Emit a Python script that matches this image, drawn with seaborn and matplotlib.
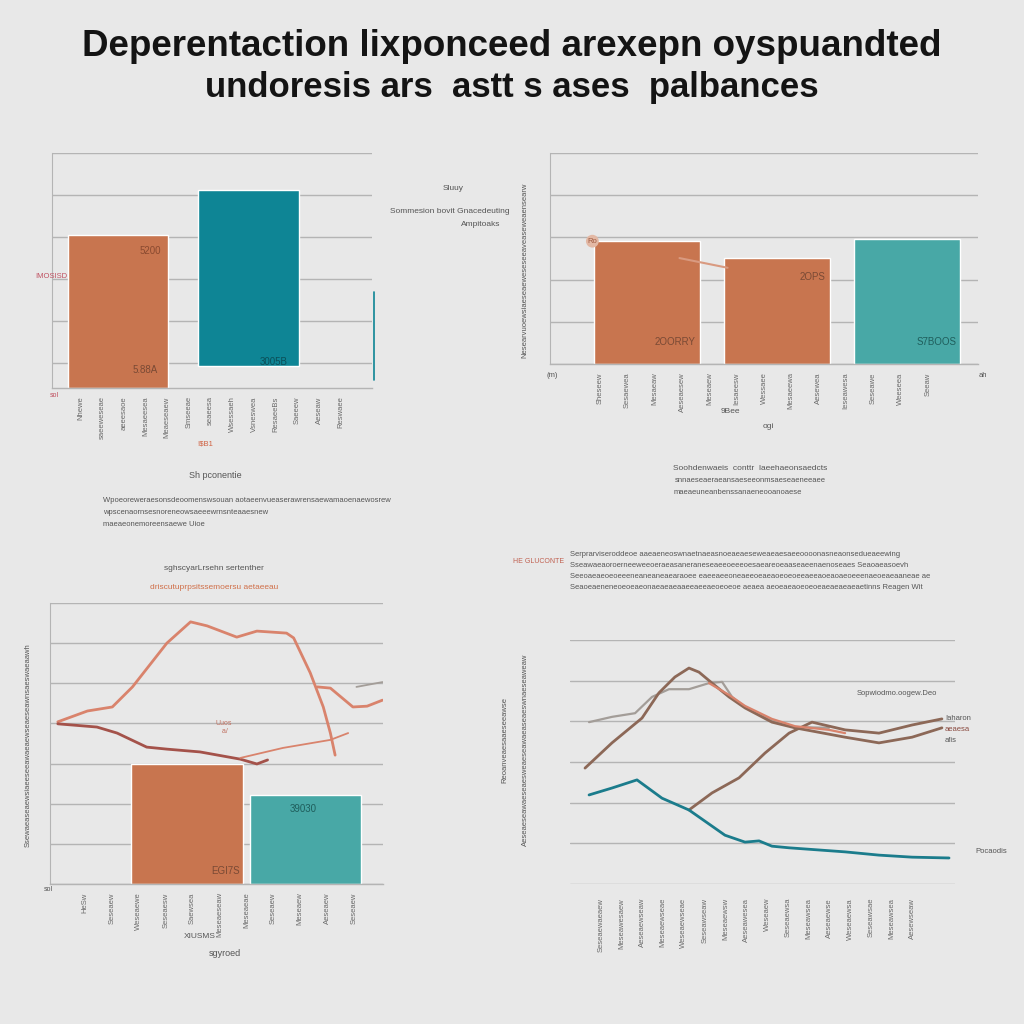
import numpy as np
import pandas as pd
import matplotlib
matplotlib.use("Agg")
import matplotlib.pyplot as plt
import seaborn as sns

# colours
BG = "#e8e8e8"
ORANGE = "#c8754f"
TEAL_DARK = "#0e8595"
TEAL = "#48a8a6"
SALMON = "#d9836c"
DARKRED = "#a4524a"
BROWN = "#8c6857"
GREY = "#a39d98"
GRID = "#b4b4b4"
TXT = "#555555"

# --- top-left: two bars (teal one floats)
tl_cats = ["Imosisd", "Sluuy"]
tl_top = [3.65, 4.72]
tl_bottom = [0.0, 0.52]
tl_colors = [ORANGE, TEAL_DARK]

# --- top-right: three bars + small connector
tr_cats = ["2OORRY", "2OPS", "S7BOOS"]
tr_vals = [2.91, 2.51, 2.96]
tr_colors = [ORANGE, ORANGE, TEAL]
tr_link_x = [0.25, 0.62]
tr_link_y = [2.51, 2.28]

# --- bottom-left: two bars with lines on top
bl_cats = ["EGI7S", "39030"]
bl_vals = [2.99, 2.22]
bl_colors = [ORANGE, TEAL]
bl_salmon_x = [-1.09, -0.84, -0.63, -0.46, -0.17, 0.03, 0.17, 0.42, 0.59, 0.84, 0.90, 1.04, 1.15, 1.21, 1.25]
bl_salmon_y = [4.04, 4.31, 4.41, 4.91, 6.00, 6.53, 6.43, 6.15, 6.30, 6.25, 6.13, 5.26, 4.41, 3.76, 3.21]
bl_salmon2_x = [1.10, 1.21, 1.40, 1.52, 1.65]
bl_salmon2_y = [4.91, 4.88, 4.41, 4.43, 4.58]
bl_grey_x = [1.43, 1.65]
bl_grey_y = [4.91, 5.03]
bl_red_x = [-1.09, -0.76, -0.59, -0.34, -0.17, 0.11, 0.45, 0.59, 0.68]
bl_red_y = [3.99, 3.91, 3.76, 3.41, 3.36, 3.29, 3.11, 2.99, 3.09]
bl_orange_x = [0.45, 0.81, 1.21, 1.36]
bl_orange_y = [3.14, 3.39, 3.59, 3.76]

# --- bottom-right: four lines
br_teal_x = [0.99, 2.18, 3.48, 4.78, 6.18, 8.05, 9.09, 9.82, 10.49, 11.38, 14.29, 16.05, 17.77, 19.69]
br_teal_y = [2.19, 2.36, 2.56, 2.11, 1.82, 1.20, 1.03, 1.06, 0.93, 0.89, 0.79, 0.71, 0.66, 0.64]
br_brown1_x = [0.78, 2.18, 3.74, 4.62, 5.45, 6.18, 6.70, 7.38, 8.26, 9.09, 10.49, 11.69, 14.29, 16.05, 17.77, 19.32]
br_brown1_y = [2.85, 3.47, 4.08, 4.70, 5.09, 5.31, 5.21, 4.94, 4.60, 4.33, 3.98, 3.84, 3.61, 3.47, 3.61, 3.84]
br_brown2_x = [6.18, 7.38, 8.78, 10.13, 11.38, 12.57, 14.29, 16.05, 17.77, 19.32]
br_brown2_y = [1.82, 2.24, 2.61, 3.22, 3.71, 3.98, 3.79, 3.71, 3.91, 4.06]
br_grey_x = [0.99, 2.18, 3.38, 4.26, 5.14, 6.18, 7.22, 7.90, 8.42, 9.09, 10.49, 11.69, 13.45]
br_grey_y = [3.98, 4.11, 4.20, 4.60, 4.79, 4.79, 4.94, 4.97, 4.60, 4.35, 4.03, 3.86, 3.84]
br_salmon_x = [7.22, 8.26, 9.09, 10.49, 11.69, 13.45, 14.29]
br_salmon_y = [4.94, 4.65, 4.38, 4.06, 3.88, 3.79, 3.71]

# garbled tick labels, as in the picture
tl_ticks = ["Nhewe", "saeeweseae", "aeeesaoe", "Mesaeesea", "Meaeseaew", "Smseeae", "seaeesa",
            "Wsessaeh", "Vsneswea", "ResaeeBs", "Saeeew", "Aeseaw", "Reswaee"]
tr_ticks = ["Sheseew", "Sesaewea", "Mesaeaw", "Aeseaesew", "Meseaew", "Iesaeesw", "Wessaee",
            "Mesaeewa", "Aesewea", "Ieseawesa", "Seseawe", "Weeseea", "Seeaw"]
bl_ticks = ["HeSw", "Seseaew", "Weseaewe", "Seseaesw", "Saewsea", "Meseaeseaw", "Meseaeae",
            "Seseaew", "Meseaew", "Aeseaew", "Seseaew"]
br_ticks = ["Seseaewaeaew", "Meseawesaew", "Aeseaewseaw", "Meseaewseae", "Weseaewseae",
            "Seseawseaw", "Meseaewsw", "Aeseawesea", "Weseaew", "Seseaewsa", "Meseawsea",
            "Aeseaewse", "Weseaewsa", "Seseawsae", "Meseawsea", "Aesewseaw"]

sns.set_theme(style="white")
plt.rcParams["font.family"] = ["Liberation Sans", "DejaVu Sans"]

fig = plt.figure(figsize=(10.24, 10.24), dpi=100, facecolor=BG)


def px_axes(l, t, r, b):
    ax = fig.add_axes([l / 1024, 1 - b / 1024, (r - l) / 1024, (b - t) / 1024])
    ax.set_facecolor(BG)
    return ax


def ftxt(x, y, s, **kw):
    kw.setdefault("color", TXT)
    kw.setdefault("fontsize", 6)
    fig.text(x / 1024, 1 - y / 1024, s, **kw)


def style_axes(ax, ticks, tick_pos, left_spine=True):
    for side in ["top", "right"]:
        ax.spines[side].set_visible(False)
    ax.spines["left"].set_visible(left_spine)
    ax.spines["left"].set_color(GRID)
    ax.spines["left"].set_linewidth(0.8)
    ax.spines["bottom"].set_color(GRID)
    ax.spines["bottom"].set_linewidth(1.0)
    ax.yaxis.grid(True, color=GRID, lw=1.0)
    ax.set_axisbelow(True)
    ax.set_yticklabels([])
    ax.tick_params(axis="y", length=0)
    ax.set_xticks(tick_pos)
    ax.set_xticklabels(ticks, rotation=90, fontsize=5.5, color="#6a6a6a")
    ax.tick_params(axis="x", length=0, pad=6)
    ax.set_xlabel("")
    ax.set_ylabel("")


# ---------------- title
ftxt(512, 46, "Deperentaction lixponceed arexepn oyspuandted", ha="center", va="center",
     fontsize=26.5, color="#141414", weight="bold")
ftxt(512, 88, "undoresis ars  astt s ases  palbances", ha="center", va="center",
     fontsize=25, color="#141414", weight="bold")

# ---------------- top-left
ax1 = px_axes(52, 153, 372, 388)
sns.barplot(x=tl_cats, y=np.array(tl_top) - np.array(tl_bottom), bottom=tl_bottom,
            color=ORANGE, width=0.77, ax=ax1, saturation=1)
for patch, c in zip(ax1.patches, tl_colors):
    patch.set_facecolor(c)
ax1.set_xlim(-0.51, 1.95)
ax1.set_ylim(0, 5.6)
ax1.set_yticks([0.6, 1.6, 2.6, 3.6, 4.6, 5.6])
style_axes(ax1, tl_ticks, np.linspace(-0.29, 1.71, len(tl_ticks)))
ax1.text(0.33, 3.2, "5200", fontsize=7, color="#8a4a30", ha="right")
ax1.text(0.30, 0.35, "5.88A", fontsize=7, color="#7a4a35", ha="right")
ax1.text(1.30, 0.55, "3005B", fontsize=7, color="#0b4f58", ha="right")
ftxt(35, 276, "IMOSISD", color="#c05060", fontsize=5.5, va="center")
ftxt(50, 397, "sol", color="#c05060", fontsize=5)
ftxt(205, 445, "!$B1", color="#d06040", fontsize=5.5, ha="center")
fig.add_artist(plt.Line2D([374 / 1024, 374 / 1024], [1 - 292 / 1024, 1 - 380 / 1024],
                          color=TEAL_DARK, lw=1.2))
ftxt(443, 190, "Sluuy", fontsize=6)
ftxt(510, 213, "Sommesion bovit Gnacedeuting", fontsize=6, ha="right")
ftxt(500, 226, "Ampitoaks", fontsize=6, ha="right")
ftxt(215, 478, "Sh pconentie", fontsize=6.5, ha="center")
ftxt(103, 502, "Wpoeoreweraesonsdeoomenswsouan aotaeenvueaserawrensaewamaoenaewosrew", fontsize=5.5)
ftxt(103, 514, "wpscenaornsesnoreneowsaeeewrnsnteaaesnew", fontsize=5.5)
ftxt(103, 526, "maeaeonemoreensaewe Uioe", fontsize=5.5)

# ---------------- top-right
ax2 = px_axes(550, 153, 978, 364)
sns.barplot(x=tr_cats, y=tr_vals, color=ORANGE, width=0.81, ax=ax2, saturation=1)
for patch, c in zip(ax2.patches, tr_colors):
    patch.set_facecolor(c)
sns.lineplot(x=tr_link_x, y=tr_link_y, color="#d99a80", lw=1.5, sort=False, ax=ax2)
ax2.set_xlim(-0.746, 2.546)
ax2.set_ylim(0, 5)
ax2.set_yticks([0, 1, 2, 3, 4, 5])
style_axes(ax2, tr_ticks, np.linspace(-0.36, 2.16, len(tr_ticks)))
ax2.text(-0.42, 2.91, "Ro", fontsize=5.5, color="#a05a40", ha="center", va="center",
         bbox=dict(boxstyle="circle,pad=0.2", fc="#e3b8a4", ec="none"))
ax2.text(0.37, 0.45, "2OORRY", fontsize=7, color="#7a4a35", ha="right")
ax2.text(1.37, 2.0, "2OPS", fontsize=7, color="#7a4a35", ha="right")
ax2.text(2.38, 0.45, "S7BOOS", fontsize=7, color="#1f5e5c", ha="right")
ftxt(525, 270, "Nesearvuoewsiaeseaeweseseeaveaseweaensearw", fontsize=5.5, rotation=90,
     ha="center", va="center")
ftxt(552, 377, "(m)", fontsize=5.5, ha="center")
ftxt(983, 377, "ah", fontsize=5.5, ha="center")
ftxt(730, 413, "9Bee", fontsize=6, ha="center")
ftxt(768, 428, "ogi", fontsize=6, ha="center")
ftxt(750, 470, "Soohdenwaeis  conttr  laeehaeonsaedcts", fontsize=6, ha="center")
ftxt(750, 482, "snnaeseaeraeansaeseeonmsaeseaeneeaee", fontsize=5.5, ha="center")
ftxt(738, 494, "maeaeuneanbenssanaeneooanoaese", fontsize=5.5, ha="center")

# ---------------- bottom-left
ax3 = px_axes(50, 603, 383, 884)
sns.barplot(x=bl_cats, y=bl_vals, color=ORANGE, width=0.94, ax=ax3, saturation=1)
for patch, c in zip(ax3.patches, bl_colors):
    patch.set_facecolor(c)
sns.lineplot(x=bl_salmon_x, y=bl_salmon_y, color=SALMON, lw=2, sort=False, ax=ax3)
sns.lineplot(x=bl_salmon2_x, y=bl_salmon2_y, color=SALMON, lw=2, sort=False, ax=ax3)
sns.lineplot(x=bl_grey_x, y=bl_grey_y, color=GREY, lw=1.3, sort=False, ax=ax3)
sns.lineplot(x=bl_red_x, y=bl_red_y, color=DARKRED, lw=2, sort=False, ax=ax3)
sns.lineplot(x=bl_orange_x, y=bl_orange_y, color=SALMON, lw=1.3, sort=False, ax=ax3)
ax3.set_xlim(-1.156, 1.654)
ax3.set_ylim(0, 7)
ax3.set_yticks(range(8))
style_axes(ax3, bl_ticks, np.linspace(-0.86, 1.41, len(bl_ticks)))
ax3.text(0.45, 0.25, "EGI7S", fontsize=7, color="#7a4a35", ha="right")
ax3.text(0.98, 1.8, "39030", fontsize=7, color="#1f5e5c", ha="center")
ax3.text(0.31, 3.75, "Uuos\n a/", fontsize=5, color="#c07060", ha="center")
ftxt(214, 570, "sghscyarLrsehn sertenther", fontsize=6, ha="center")
ftxt(214, 589, "driscutuprpsitssemoersu aetaeeau", fontsize=6, ha="center", color="#d0704a")
ftxt(28, 745, "Ssewaeaseaewsiaeeseeawaeaewseaeseawnsaeswaeaawh", fontsize=5.5, rotation=90,
     ha="center", va="center")
ftxt(48, 891, "sol", fontsize=5, ha="center")
ftxt(200, 938, "XIUSMS", fontsize=6, ha="center")
ftxt(225, 956, "sgyroed", fontsize=6.5, ha="center")

# ---------------- bottom-right
ax4 = px_axes(570, 640, 955, 884)
sns.lineplot(x=br_grey_x, y=br_grey_y, color=GREY, lw=1.6, sort=False, ax=ax4)
sns.lineplot(x=br_brown2_x, y=br_brown2_y, color=BROWN, lw=2, sort=False, ax=ax4)
sns.lineplot(x=br_brown1_x, y=br_brown1_y, color=BROWN, lw=2, sort=False, ax=ax4)
sns.lineplot(x=br_salmon_x, y=br_salmon_y, color=SALMON, lw=1.6, sort=False, ax=ax4)
sns.lineplot(x=br_teal_x, y=br_teal_y, color="#1b7c8c", lw=2, sort=False, ax=ax4)
ax4.set_xlim(0, 20)
ax4.set_ylim(0, 6)
ax4.set_yticks(range(7))
style_axes(ax4, br_ticks, np.linspace(1.6, 17.8, len(br_ticks)), left_spine=False)
ax4.spines["bottom"].set_visible(False)
ax4.tick_params(axis="x", pad=10)
ftxt(857, 695, "Sopwiodmo.oogew.Deo", fontsize=5.5)
ftxt(945, 720, "Iaharon", fontsize=5.5)
ftxt(945, 731, "aeaesa", fontsize=5.5, color="#8a4a40")
ftxt(945, 742, "afis", fontsize=5.5)
ftxt(975, 853, "Pocaodis", fontsize=5.5)
ftxt(505, 740, "Reoanveaesaaeseeawse", fontsize=5.5, rotation=90, ha="center", va="center")
ftxt(525, 750, "Aeseaeseawaeseaesweaeseawaeaseaeswnaeseaweaw", fontsize=5.5, rotation=90,
     ha="center", va="center")
ftxt(570, 556, "Serprarviseroddeoe aaeaeneoswnaetnaeasnoeaeaeseweaeaesaeeoooonasneaonsedueaeewing", fontsize=5.5)
ftxt(570, 567, "Sseawaeaoroerneeweeoeraeasaneraneseaeeoeeeoesaeareoeaaseaeenaenoseaes Seaoaeasoevh", fontsize=5.5)
ftxt(570, 578, "Seeoaeaeoeoeeeneaneaneaearaoee eaeeaeeoneaeeoeaeaoeoeoeeaeeaoeaoaeoeeenaeoeaeaaneae ae", fontsize=5.5)
ftxt(570, 589, "Seaoeaeneneoeoeaeonaeaeaeaaeeaeeaeoeoeoe aeaea aeoeaeaoeoeoeaeaeaeaeaetinns Reagen Wit", fontsize=5.5)
ftxt(513, 563, "HE GLUCONTE", fontsize=5, color="#c06050")

fig.savefig("out.png", dpi=100, facecolor=BG)
